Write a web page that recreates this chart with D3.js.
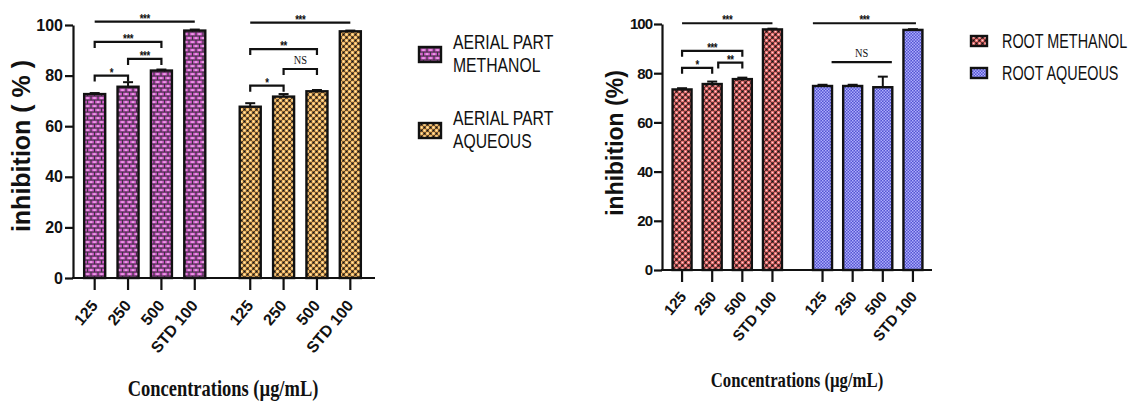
<!DOCTYPE html>
<html><head><meta charset="utf-8">
<script src="https://cdn.jsdelivr.net/npm/d3@7"></script>
<style>
html,body{margin:0;padding:0;background:#fff;}
svg{display:block;}
text{font-family:"Liberation Sans", Arial, sans-serif;fill:#111;}
</style></head><body>
<svg id="chart" width="1130" height="401"></svg>
<script>
// ---- data ----
const concentrations = ["125", "250", "500", "STD 100"];
const yTicks = [0, 20, 40, 60, 80, 100];

const aerialMethanol    = [72.7, 75.6, 82.0, 97.8];
const aerialMethanolErr = [0.4, 1.8, 0.4, 0.4];
const aerialAqueous     = [67.7, 71.7, 73.8, 97.5];
const aerialAqueousErr  = [1.4, 1.0, 0.5, 0.3];
const rootMethanol      = [73.4, 75.6, 77.6, 97.8];
const rootMethanolErr   = [0.5, 1.0, 0.6, 0.3];
const rootAqueous       = [74.8, 74.8, 74.3, 97.6];
const rootAqueousErr    = [0.5, 0.5, 4.3, 0.3];

// significance comparisons: positions in category units, level in % inhibition
const aerialMethanolSig = [
  {from: 0, to: 3, level: 101.3, label: "***", legs: false},
  {from: 0, to: 2, level: 93.3,  label: "***", legs: true},
  {from: 1, to: 2, level: 86.6,  label: "***", legs: true},
  {from: 0, to: 1, level: 80.0,  label: "*",   legs: true}
];
const aerialAqueousSig = [
  {from: 0, to: 3, level: 100.9, label: "***", legs: false},
  {from: 0, to: 2, level: 90.5,  label: "**",  legs: true},
  {from: 1, to: 2, level: 82.6,  label: "NS",  legs: true},
  {from: 0, to: 1, level: 76.0,  label: "*",   legs: true}
];
const rootMethanolSig = [
  {from: 0, to: 3, level: 100.3, label: "***", legs: false},
  {from: 0, to: 2, level: 89.1,  label: "***", legs: true},
  {from: 1.2, to: 2, level: 84.3, label: "**", legs: true},
  {from: 0, to: 1, level: 82.2,  label: "*",   legs: true}
];
const rootAqueousSig = [
  {from: -0.32, to: 3.1, level: 100.3, label: "***", legs: false},
  {from: 0.3, to: 2.3, level: 84.5,  label: "NS",  legs: false}
];

const leftLegend  = [["AERIAL PART", "METHANOL"], ["AERIAL PART", "AQUEOUS"]];
const rightLegend = [["ROOT METHANOL"], ["ROOT AQUEOUS"]];

const svg = d3.select("#chart");
svg.append("rect").attr("width", 1130).attr("height", 401).attr("fill", "#fff");

// ---- fill patterns ----
const defs = svg.append("defs");

// pink brick weave
const brick = defs.append("pattern").attr("id", "brickPink")
  .attr("patternUnits", "userSpaceOnUse").attr("width", 7).attr("height", 8);
brick.append("rect").attr("width", 7).attr("height", 8).attr("fill", "#3d3340");
[[0.6, 0.6], [-2.9, 4.6], [4.1, 4.6]].forEach(([bx, by]) => {
  brick.append("rect").attr("x", bx).attr("y", by).attr("width", 5.8).attr("height", 2.9).attr("fill", "#cf52c8");
  brick.append("rect").attr("x", bx + 1.6).attr("y", by + 0.9).attr("width", 2.6).attr("height", 1.1).attr("fill", "#f8d4f4");
});

// dotted checker fills (tan and salmon)
function dotPattern(id, dot, core) {
  const p = defs.append("pattern").attr("id", id)
    .attr("patternUnits", "userSpaceOnUse").attr("width", 6).attr("height", 6);
  p.append("rect").attr("width", 6).attr("height", 6).attr("fill", "#141010");
  [[1.5, 1.5], [4.5, 4.5], [-1.5, 4.5], [7.5, 1.5], [1.5, 7.5], [4.5, -1.5]].forEach(([cx, cy]) => {
    p.append("circle").attr("cx", cx).attr("cy", cy).attr("r", 1.95).attr("fill", dot);
    p.append("circle").attr("cx", cx).attr("cy", cy).attr("r", 0.8).attr("fill", core);
  });
}
dotPattern("dotTan", "#eeb25e", "#fff0b8");
dotPattern("dotRed", "#e46a6a", "#ffd8d8");

// fine blue checker
const blue = defs.append("pattern").attr("id", "fineBlue")
  .attr("patternUnits", "userSpaceOnUse").attr("width", 3).attr("height", 3);
blue.append("rect").attr("width", 3).attr("height", 3).attr("fill", "#5454d2");
blue.append("rect").attr("width", 1.5).attr("height", 1.5).attr("fill", "#aeaefc");
blue.append("rect").attr("x", 1.5).attr("y", 1.5).attr("width", 1.5).attr("height", 1.5).attr("fill", "#aeaefc");

// ---- panel layout ----
const panels = [
  {
    groups: [
      {values: aerialMethanol, errors: aerialMethanolErr, sig: aerialMethanolSig, fill: "url(#brickPink)"},
      {values: aerialAqueous,  errors: aerialAqueousErr,  sig: aerialAqueousSig,  fill: "url(#dotTan)"}
    ],
    axisX: 73, axisEnd: 375, yBottom: 278, yTop: 25, groupRange: [78, 367],
    tickFont: 16, tickDx: 4, tickDy: 28, yTickFont: 16, yTickSpacing: 0,
    yLabel: "inhibition ( % )", yLabelX: 30, yLabelY: 146, yLabelFont: 25,
    xLabelX: 223, xLabelY: 396, xLabelFont: 24, xLabelScale: 0.77,
    legend: leftLegend, legendFills: ["url(#brickPink)", "url(#dotTan)"],
    swatches: [[419, 47], [419, 123]], swatchW: 22, swatchH: 15,
    legendX: 453, legendBaselines: [[49, 72], [125, 148]], legendFont: 21, legendScale: 0.75
  },
  {
    groups: [
      {values: rootMethanol, errors: rootMethanolErr, sig: rootMethanolSig, fill: "url(#dotRed)"},
      {values: rootAqueous,  errors: rootAqueousErr,  sig: rootAqueousSig,  fill: "url(#fineBlue)"}
    ],
    axisX: 662, axisEnd: 932, yBottom: 270, yTop: 24, groupRange: [667, 928],
    tickFont: 15, tickDx: 5, tickDy: 27, yTickFont: 15, yTickSpacing: -1,
    yLabel: "inhibition (%)", yLabelX: 623, yLabelY: 143, yLabelFont: 23,
    xLabelX: 797, xLabelY: 387, xLabelFont: 22, xLabelScale: 0.76,
    legend: rightLegend, legendFills: ["url(#dotRed)", "url(#fineBlue)"],
    swatches: [[971, 36], [971, 68]], swatchW: 16, swatchH: 10,
    legendX: 1002, legendBaselines: [[48], [80]], legendFont: 20, legendScale: 0.72
  }
];

panels.forEach(drawPanel);

function drawPanel(P) {
  const g = svg.append("g");
  const y = d3.scaleLinear().domain([0, 100]).range([P.yBottom, P.yTop]);
  const groupScale = d3.scaleBand().domain(d3.range(P.groups.length))
    .range(P.groupRange).paddingInner(0.142).paddingOuter(0);
  const inner = d3.scaleBand().domain(concentrations)
    .range([0, groupScale.bandwidth()]).paddingInner(0.37).paddingOuter(0.185);
  const step = inner.step();
  const centerOf = (gi, pos) => groupScale(gi) + inner(concentrations[0]) + inner.bandwidth() / 2 + pos * step;

  // bars, error bars, brackets
  P.groups.forEach((grp, gi) => {
    const gg = g.append("g");
    const rows = concentrations.map((c, i) => ({c, v: grp.values[i], e: grp.errors[i]}));

    // error bars (upper only)
    gg.selectAll("line.err").data(rows).join("line")
      .attr("x1", d => groupScale(gi) + inner(d.c) + inner.bandwidth() / 2)
      .attr("x2", d => groupScale(gi) + inner(d.c) + inner.bandwidth() / 2)
      .attr("y1", d => y(d.v)).attr("y2", d => y(d.v + d.e))
      .attr("stroke", "#111").attr("stroke-width", 2);
    gg.selectAll("line.cap").data(rows).join("line")
      .attr("x1", d => groupScale(gi) + inner(d.c) + inner.bandwidth() / 2 - 5)
      .attr("x2", d => groupScale(gi) + inner(d.c) + inner.bandwidth() / 2 + 5)
      .attr("y1", d => y(d.v + d.e)).attr("y2", d => y(d.v + d.e))
      .attr("stroke", "#111").attr("stroke-width", 2);

    gg.selectAll("rect.bar").data(rows).join("rect")
      .attr("x", d => groupScale(gi) + inner(d.c))
      .attr("width", inner.bandwidth())
      .attr("y", d => y(d.v))
      .attr("height", d => y(0) - y(d.v))
      .attr("fill", grp.fill)
      .attr("stroke", "#111").attr("stroke-width", 2.4);

    grp.sig.forEach(s => {
      const x1 = centerOf(gi, s.from), x2 = centerOf(gi, s.to), ly = y(s.level);
      const path = s.legs
        ? `M${x1},${ly + 6}V${ly}H${x2}V${ly + 6}`
        : `M${x1},${ly}H${x2}`;
      gg.append("path").attr("d", path).attr("fill", "none")
        .attr("stroke", "#111").attr("stroke-width", 2.2);
      const isNS = s.label === "NS";
      const t = gg.append("g").attr("transform", `translate(${(x1 + x2) / 2},${isNS ? ly - 5 : ly + 1}) scale(0.8,1)`);
      t.append("text").attr("text-anchor", "middle")
        .style("font-family", isNS ? "'Liberation Serif', serif" : null)
        .style("font-size", isNS ? "13px" : "12px")
        .style("font-weight", isNS ? "normal" : "bold")
        .style("letter-spacing", isNS ? "0px" : "-0.5px")
        .text(s.label);
    });
  });

  // y axis
  const yAxis = g.append("g").attr("transform", `translate(${P.axisX},0)`)
    .call(d3.axisLeft(y).tickValues(yTicks).tickSize(8).tickSizeOuter(0).tickPadding(2));
  yAxis.select(".domain").attr("stroke", "#111").attr("stroke-width", 2.2);
  yAxis.selectAll(".tick line").attr("stroke", "#111").attr("stroke-width", 2.2);
  yAxis.selectAll(".tick text")
    .style("font-size", P.yTickFont + "px").style("font-weight", "bold")
    .style("letter-spacing", P.yTickSpacing + "px")
    .style("font-family", "'Liberation Sans', Arial, sans-serif").attr("fill", "#111");

  // x axis line + category ticks
  g.append("line").attr("x1", P.axisX - 1).attr("x2", P.axisEnd)
    .attr("y1", y(0)).attr("y2", y(0)).attr("stroke", "#111").attr("stroke-width", 2.2);
  P.groups.forEach((grp, gi) => {
    concentrations.forEach((c, i) => {
      const cx = groupScale(gi) + inner(c) + inner.bandwidth() / 2;
      g.append("line").attr("x1", cx).attr("x2", cx)
        .attr("y1", y(0)).attr("y2", y(0) + 12)
        .attr("stroke", "#111").attr("stroke-width", 2.2);
      g.append("text")
        .attr("transform", `translate(${cx + P.tickDx},${y(0) + P.tickDy}) rotate(-50)`)
        .attr("text-anchor", "end")
        .style("font-size", P.tickFont + "px").style("font-weight", "bold")
        .text(c);
    });
  });

  // axis titles
  g.append("text")
    .attr("transform", `translate(${P.yLabelX},${P.yLabelY}) rotate(-90)`)
    .attr("text-anchor", "middle")
    .style("font-size", P.yLabelFont + "px").style("font-weight", "bold")
    .text(P.yLabel);
  g.append("g").attr("transform", `translate(${P.xLabelX},${P.xLabelY}) scale(${P.xLabelScale},1)`)
    .append("text").attr("text-anchor", "middle")
    .style("font-family", "'Liberation Serif', 'Times New Roman', serif")
    .style("font-size", P.xLabelFont + "px").style("font-weight", "bold")
    .text("Concentrations (µg/mL)");

  // legend
  P.legend.forEach((lines, li) => {
    const [sx, sy] = P.swatches[li];
    g.append("rect").attr("x", sx).attr("y", sy).attr("width", P.swatchW).attr("height", P.swatchH)
      .attr("fill", P.legendFills[li]).attr("stroke", "#111").attr("stroke-width", 2.4);
    lines.forEach((txt, k) => {
      g.append("g").attr("transform", `translate(${P.legendX},${P.legendBaselines[li][k]}) scale(${P.legendScale},1)`)
        .append("text").style("font-size", P.legendFont + "px").attr("fill", "#222").text(txt);
    });
  });
}
</script>
</body></html>
